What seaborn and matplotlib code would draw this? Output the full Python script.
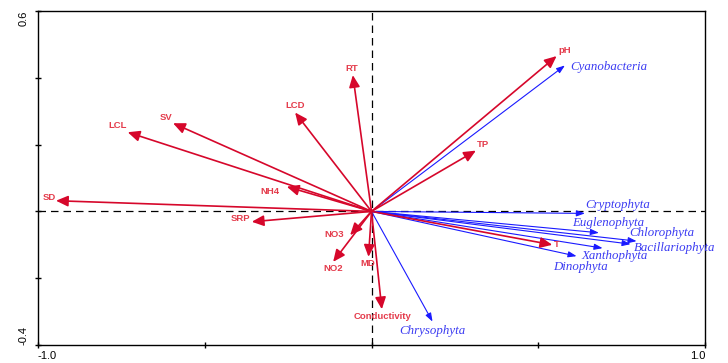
# RDA-style biplot: environmental variables (red) and phytoplankton groups (blue)

import matplotlib
matplotlib.use("Agg")
import matplotlib.pyplot as plt
import seaborn as sns

# environmental vectors (arrow tips)
env_names = ["pH", "TP", "RT", "LCD", "SV", "LCL", "SD", "NH4", "SRP",
             "NO3", "NO2", "MD", "Conductivity", "T"]
env_x = [0.555, 0.313, -0.056, -0.229, -0.595, -0.731, -0.946, -0.254, -0.359,
         -0.064, -0.115, -0.009, 0.031, 0.542]
env_y = [0.465, 0.182, 0.408, 0.296, 0.264, 0.237, 0.032, 0.074, -0.031,
         -0.071, -0.151, -0.136, -0.293, -0.100]

# species vectors (arrow tips)
spp_names = ["Cyanobacteria", "Cryptophyta", "Euglenophyta", "Chlorophyta",
             "Bacillariophyta", "Xanthophyta", "Dinophyta", "Chrysophyta"]
spp_x = [0.580, 0.640, 0.682, 0.795, 0.777, 0.693, 0.615, 0.183]
spp_y = [0.437, -0.006, -0.064, -0.089, -0.098, -0.110, -0.134, -0.330]

x_ticks = [-1.0, -0.5, 0.0, 0.5, 1.0]
x_ticklabels = ["-1.0", "", "", "", "1.0"]
y_ticks = [-0.4, -0.2, 0.0, 0.2, 0.4, 0.6]
y_ticklabels = ["-0.4", "", "", "", "", "0.6"]

# label offsets from arrow tip, in pixels (dx right, dy up)
env_offsets = {"pH": (8, 6), "TP": (7, 6), "RT": (-1, 7), "LCD": (0, 7),
               "SV": (-7, 6), "LCL": (-10, 7), "SD": (-7, 3), "NH4": (-17, -5),
               "SRP": (-11, 3), "NO3": (-16, 1), "NO2": (0, -7), "MD": (-1, -7),
               "Conductivity": (1, -7), "T": (5, 0)}
spp_offsets = {"Cyanobacteria": (5, -2), "Cryptophyta": (0, 8),
               "Euglenophyta": (-27, 10), "Chlorophyta": (-7, 8),
               "Bacillariophyta": (3, -4), "Xanthophyta": (-21, -8),
               "Dinophyta": (-23, -11), "Chrysophyta": (-33, -9)}

sns.set_theme(style="ticks")
plt.rcParams["font.family"] = ["Liberation Sans", "DejaVu Sans"]

fig = plt.figure(figsize=(7.28, 3.63), dpi=100)
ax = fig.add_axes([38 / 728, 1 - 345 / 363, 667 / 728, 334 / 363])
ax.set_xlim(-1.0, 1.0)
ax.set_ylim(-0.4, 0.6)

ax.axhline(0, color="black", lw=0.9, dashes=(6, 4), zorder=1)
ax.axvline(0, color="black", lw=0.9, dashes=(6, 4), zorder=1)

blue_arrow = "#1a1aff"
blue_text = "#3b3bf2"
red_arrow = "#d6072b"
red_text = "#e43c4c"

for name, x, y in zip(spp_names, spp_x, spp_y):
    ax.annotate("", xy=(x, y), xytext=(0, 0),
                arrowprops=dict(arrowstyle="-|>,head_length=0.5,head_width=0.18",
                                color=blue_arrow, lw=0.8, mutation_scale=10,
                                shrinkA=0, shrinkB=0), zorder=2)
    dx, dy = spp_offsets[name]
    ax.annotate(name, xy=(x, y), xytext=(dx, dy), textcoords="offset pixels",
                ha="left", va="center", color=blue_text, fontsize=9.3,
                family=["Liberation Serif", "DejaVu Serif"], style="italic", zorder=4)

for name, x, y in zip(env_names, env_x, env_y):
    ax.annotate("", xy=(x, y), xytext=(0, 0),
                arrowprops=dict(arrowstyle="-|>,head_length=0.6,head_width=0.27",
                                color=red_arrow, lw=1.2, mutation_scale=12,
                                shrinkA=0, shrinkB=0), zorder=3)
    dx, dy = env_offsets[name]
    ax.annotate(name, xy=(x, y), xytext=(dx, dy), textcoords="offset pixels",
                ha="center", va="center", color=red_text, fontsize=6.8,
                fontweight="bold", zorder=4)

ax.set_xticks(x_ticks)
ax.set_xticklabels(x_ticklabels, fontsize=8)
ax.set_yticks(y_ticks)
ax.set_yticklabels(y_ticklabels, fontsize=8, rotation=90)
ax.tick_params(direction="inout", length=4, width=1, colors="black")
ax.tick_params(axis="x", pad=2)
ax.tick_params(axis="y", pad=5)

xl = ax.get_xticklabels()
xl[0].set_ha("left")
xl[-1].set_ha("right")
yl = ax.get_yticklabels()
yl[0].set_va("bottom")
yl[-1].set_va("top")

for s in ax.spines.values():
    s.set_color("black")
    s.set_linewidth(1.0)

fig.savefig("out.png", dpi=100)
